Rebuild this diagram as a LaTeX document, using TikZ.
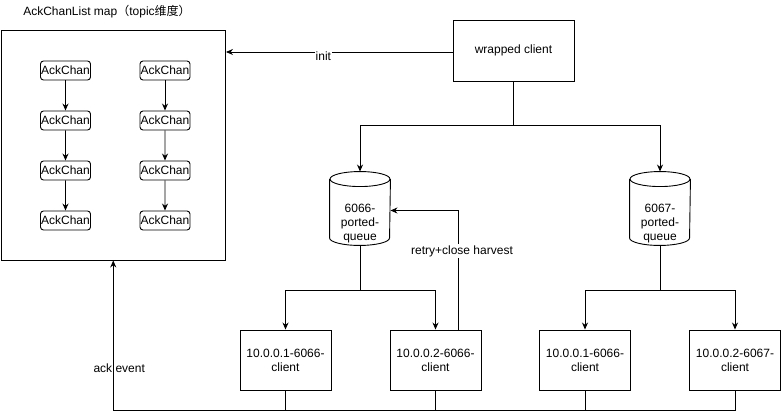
\documentclass[tikz,border=0pt]{standalone}
\usepackage{fontspec}
\setmainfont{Liberation Sans}
\newfontfamily\cjk{Noto Sans CJK SC}
\usetikzlibrary{arrows.meta}

\begin{document}
\begin{tikzpicture}[x=1pt, y=-1pt,
      line width=0.9pt,
      font=\fontsize{12}{14}\selectfont,
      >={Stealth[length=7pt,width=6pt]},
      level distance=50pt,
      edge from parent/.style={draw, ->},
      mapbox/.style={draw, rectangle, minimum width=224.5pt, minimum height=229.5pt, inner sep=0pt},
      wrapbox/.style={draw, rectangle, minimum width=121pt, minimum height=61pt, inner sep=0pt},
      client/.style={draw, rectangle, minimum width=91pt, minimum height=60pt, inner sep=0pt, align=center},
      chan/.style={draw, rectangle, rounded corners=3pt, minimum width=50pt, minimum height=19pt, inner sep=0pt},
      queue/.style={rectangle, minimum width=60pt, minimum height=73pt, inner sep=0pt}]
      \useasboundingbox (0,0) rectangle (781,419);

      % map of ack chans
      \node (title) at (107,12) {AckChanList map{\cjk （}topic{\cjk 维度）}};
      \node[mapbox] (map) at (113.25,145.25) {};
      \node[chan] (a1) at (65.5,70.5) {AckChan}
        child {node[chan] (a2) {AckChan}
          child {node[chan] (a3) {AckChan}
            child {node[chan] (a4) {AckChan}}}};
      \node[chan] (b1) at (165,70.5) {AckChan}
        child {node[chan] (b2) {AckChan}
          child {node[chan] (b3) {AckChan}
            child {node[chan] (b4) {AckChan}}}};

      % client side
      \node[wrapbox] (wrap) at (513.5,50.5) {wrapped client};
      \node[queue] (q6066) at (360,208.5) {};
      \node (q6066l) at (360,223.5) [align=center] {6066-\\ported-\\queue};
      \node[queue] (q6067) at (660,208.5) {};
      \node (q6067l) at (660,223.5) [align=center] {6067-\\ported-\\queue};
      \foreach \q in {q6066,q6067} {
        \draw ([yshift=-7.5pt]\q.north) ellipse [x radius=30, y radius=7.5];
        \draw ([yshift=-7.5pt]\q.north west) -- ([yshift=7.5pt]\q.south west)
          arc [start angle=180, end angle=0, x radius=30, y radius=7.5]
          -- ([yshift=-7.5pt]\q.north east);
      }
      \node[client] (c1) at (285.5,360) {10.0.0.1-6066-\\client};
      \node[client] (c2) at (435.5,360) {10.0.0.2-6066-\\client};
      \node[client] (c3) at (585,360) {10.0.0.1-6066-\\client};
      \node[client] (c4) at (735,360) {10.0.0.2-6067-\\client};

      \draw[->] ([yshift=-1.5pt]wrap.west) -- ([yshift=-1.5pt]wrap.west -| map.east)
        node[pos=0.57, fill=white, inner sep=0.5pt, yshift=-4pt] {init};
      \draw[->] (wrap.south) -- ++(0,44) -| (q6066.north);
      \draw[->] (wrap.south) -- ++(0,44) -| (q6067.north);
      \draw[->] (q6066.south) -- ++(0,45) -| (c1.north);
      \draw[->] (q6066.south) -- ++(0,45) -| (c2.north);
      \draw[->] (q6067.south) -- ++(0,45) -| (c3.north);
      \draw[->] (q6067.south) -- ++(0,45) -| (c4.north);
      \draw[->] ([xshift=22.5pt]c2.north) |- ([yshift=-2pt]q6066.east)
        node[pos=0.33, fill=white, inner sep=1pt, xshift=4pt] {retry+close harvest};

      % ack events back to the map
      \draw (c1.south) -- ++(0,20);
      \draw (c2.south) -- ++(0,20);
      \draw (c3.south) -- ++(0,20);
      \draw[->] (c4.south) -- ++(0,20) -| (map.south)
        node[pos=0.64, xshift=6pt] {ack event};
    \end{tikzpicture}
\end{document}
